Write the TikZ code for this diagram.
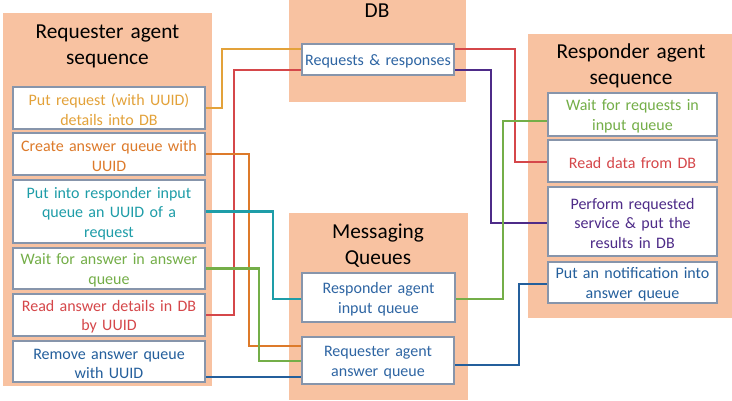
\documentclass[tikz,border=0pt]{standalone}
\usepackage{fontspec}
\setmainfont{Carlito}
\definecolor{peach}{HTML}{F8C2A1}
\definecolor{boxline}{HTML}{8795AB}
\definecolor{cgold}{HTML}{E3A23A}
\definecolor{corange}{HTML}{DD7A2A}
\definecolor{cteal}{HTML}{1E9DA8}
\definecolor{cgreen}{HTML}{74AE48}
\definecolor{cred}{HTML}{D5474A}
\definecolor{cblue}{HTML}{245F9C}
\definecolor{cpurple}{HTML}{4E2B88}
\definecolor{ctext}{HTML}{2E65A3}
\tikzset{
  container/.style={fill=peach, draw=none},
  titletext/.style={font=\fontsize{21.3}{26}\selectfont, text=black, align=center, text width=210pt, inner sep=0pt},
  stepbox/.style={draw=boxline, line width=1.2pt, fill=white, align=center, inner sep=0pt,
    text height=15pt, font=\fontsize{16}{19.5}\selectfont},
  link/.style={line width=2.6pt}
}
\begin{document}
\begin{tikzpicture}[x=1pt,y=-1pt]
\useasboundingbox (0,0) rectangle (732,400);
% containers
\path[container] (3,13) rectangle (212,386);
\path[container] (289,0) rectangle (466,102);
\path[container] (289,213) rectangle (468,400);
\path[container] (528,34) rectangle (732,318);
% titles
\node[titletext, anchor=base] (treq) at (107.5,38) {Requester agent\\sequence};
\node[titletext, anchor=base] (tdb) at (377,17) {DB};
\node[titletext, anchor=base] (tmq) at (378,238) {Messaging\\Queues};
\node[titletext, anchor=base] (tres) at (631,58) {Responder agent\\sequence};
% boxes
\begin{scope}[every node/.style={stepbox}]
\node[text width=186pt, minimum width=192pt, minimum height=42pt, text=cgold] (b1) at (109,108) {Put request (with UUID)\\details into DB};
\node[text width=186pt, minimum width=192pt, minimum height=42pt, text=corange] (b2) at (109,154) {Create answer queue with\\UUID};
\node[text width=186pt, minimum width=192pt, minimum height=63pt, text=cteal] (b3) at (109,211.5) {Put into responder input\\queue an UUID of a\\request};
\node[text width=186pt, minimum width=192pt, minimum height=41pt, text=cgreen] (b4) at (109,268.5) {Wait for answer in answer\\queue};
\node[text width=186pt, minimum width=192pt, minimum height=42pt, text=cred] (b5) at (109,315) {Read answer details in DB\\by UUID};
\node[text width=186pt, minimum width=192pt, minimum height=41pt, text=cblue] (b6) at (109,361.5) {Remove answer queue\\with UUID};
\node[text width=146pt, minimum width=152pt, minimum height=31pt, text=ctext] (req) at (378,59.5) {Requests \& responses};
\node[text width=147pt, minimum width=153pt, minimum height=49pt, text=ctext] (iq) at (378.5,297.5) {Responder agent\\input queue};
\node[text width=146pt, minimum width=152pt, minimum height=47pt, text=ctext] (aq) at (378,360.5) {Requester agent\\answer queue};
\node[text width=163pt, minimum width=169pt, minimum height=43pt, text=cgreen] (ra) at (632.5,114.5) {Wait for requests in\\input queue};
\node[text width=163pt, minimum width=169pt, minimum height=42pt, text=cred] (rb) at (632.5,161) {Read data from DB};
\node[text width=163pt, minimum width=169pt, minimum height=69pt, text=cpurple] (rc) at (632.5,221.5) {Perform requested\\service \& put the\\results in DB};
\node[text width=163pt, minimum width=169pt, minimum height=41pt, text=cblue] (rd) at (632.5,282.5) {Put an notification into\\answer queue};
\end{scope}
% connectors
\draw[link, cgold] (b1.east) -| (222,49) -- ([yshift=10.5pt]req.west);
\draw[link, cred] (b5.east) -| (234,70) -- ([yshift=-10.5pt]req.west);
\draw[link, corange] (b2.east) -| (249,346) -- ([yshift=14.5pt]aq.west);
\draw[link, cteal] (b3.east) -| (273,299) -- ([yshift=-1.5pt]iq.west);
\draw[link, cgreen] (b4.east) -| (259,361) -- ([yshift=-0.5pt]aq.west);
\draw[link, cblue] ([yshift=-15.5pt]b6.east) -- ([yshift=-16.5pt]aq.west);
\draw[link, cred] ([yshift=10.5pt]req.east) -| (515,162) -- ([yshift=-1pt]rb.west);
\draw[link, cpurple] ([yshift=-10.5pt]req.east) -| (491,223) -- ([yshift=-1.5pt]rc.west);
\draw[link, cgreen] ([yshift=-1.5pt]iq.east) -| (503,121) -- ([yshift=-6.5pt]ra.west);
\draw[link, cblue] ([yshift=-4.5pt]aq.east) -| (519,284) -- ([yshift=-1.5pt]rd.west);
% redraw box frames above connector ends
\foreach \n in {b1,b2,b3,b4,b5,b6,req,iq,aq,ra,rb,rc,rd}
  \draw[draw=boxline, line width=1.2pt] (\n.south west) rectangle (\n.north east);
\end{tikzpicture}
\end{document}
